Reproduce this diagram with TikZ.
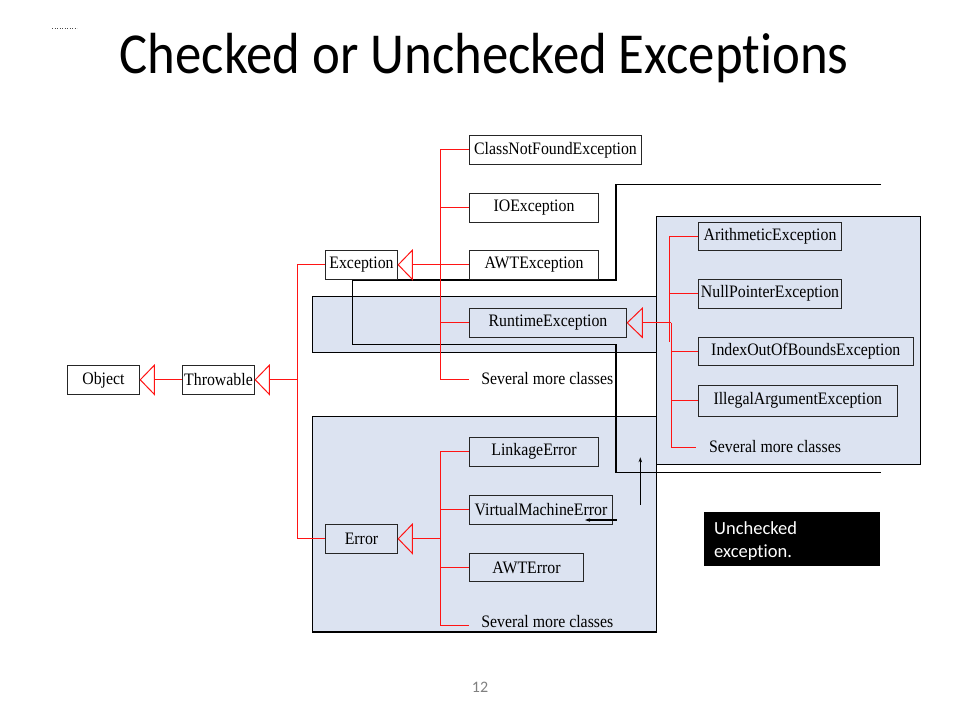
\documentclass[tikz,border=0pt]{standalone}
\usepackage{fontspec}
\setmainfont{Liberation Serif}
\newfontfamily\calib[Ligatures=NoCommon]{Carlito}
\usetikzlibrary{arrows.meta}
\definecolor{regblue}{RGB}{220,227,241}
\definecolor{redl}{RGB}{255,20,20}
\newcommand{\sqz}[1]{\scalebox{0.905}[1]{#1}}
\tikzset{
  cls/.style={draw=black!85, line width=1.1pt, inner sep=0pt, minimum height=29pt, font=\fontsize{17.5}{17.5}\selectfont},
  lbl/.style={inner sep=0pt, font=\fontsize{17.5}{17.5}\selectfont},
  region/.style={draw=black, line width=1.2pt, fill=regblue},
  outl/.style={draw=black, line width=1.2pt},
  rl/.style={draw=redl, line width=1pt},
  tri/.style={draw=redl, line width=1pt, line join=miter},
  smallarr/.style={draw=black, line width=1.1pt, -{Stealth[length=5pt,width=3.5pt]}}
}
\begin{document}
\begin{tikzpicture}[x=1pt,y=-1pt]
\useasboundingbox (0,0) rectangle (960,720);
\fill[white] (0,0) rectangle (960,720);

% title and decorations
\node[inner sep=0pt, anchor=base, font=\calib\fontsize{58}{58}\selectfont] (title) at (484,73) {\scalebox{0.91}[1]{Checked or Unchecked Exceptions}};
\coordinate (d1) at (52,28);
\coordinate (d2) at (77,28);
\draw[black!70, line width=0.7pt, dash pattern=on 0.8pt off 1.7pt] (d1) -- (d2);
\node[inner sep=0pt, anchor=base, text=black!50, font=\calib\fontsize{16}{16}\selectfont] (pg) at (480,692.5) {12};

% regions
\draw[region] (312.3,296.3) rectangle (656.7,352.3);
\draw[region] (312.3,416.7) rectangle (656.7,632);
\draw[region] (656.7,216.7) rectangle (920.3,464.3);

% black outline
\coordinate (o1) at (881,184.3);
\coordinate (o2) at (616,184.3);
\coordinate (o3) at (616,280);
\coordinate (o4) at (352.7,280);
\coordinate (o5) at (352.7,344.3);
\coordinate (o6) at (616,344.3);
\coordinate (o7) at (616,472.3);
\coordinate (o8) at (881,472.3);
\draw[outl] (o1) -- (o2) -- (o3) -- (o4) -- (o5) -- (o6) -- (o7) -- (o8);

% class boxes
\node[cls, minimum width=72.4pt] (obj) at (103.5,379.8) {\sqz{Object}};
\node[cls, minimum width=72.4pt] (thr) at (218.5,379.8) {\sqz{Throwable}};
\node[cls, minimum width=72.4pt] (exc) at (361.5,264.8) {\sqz{Exception}};
\node[cls, minimum width=172.4pt] (cnf) at (555.5,149.8) {\sqz{ClassNotFoundException}};
\node[cls, minimum width=129.4pt] (ioe) at (534,207.8) {\sqz{IOException}};
\node[cls, minimum width=129.4pt] (awt) at (534,264.8) {\sqz{AWTException}};
\node[cls, minimum width=157.4pt] (rte) at (548,322.8) {\sqz{RuntimeException}};
\node[lbl] (s1) at (547.3,378.5) {\sqz{Several more classes}};
\node[cls, minimum width=72.4pt] (err) at (361.5,538.8) {\sqz{Error}};
\node[cls, minimum width=129.4pt] (lnk) at (534,451.8) {\sqz{LinkageError}};
\node[cls, minimum width=143.4pt] (vme) at (541,509.8) {\sqz{VirtualMachineError}};
\node[cls, minimum width=114.4pt, minimum height=28.4pt] (awe) at (526.5,567.5) {\sqz{AWTError}};
\node[lbl] (s3) at (547.3,621.5) {\sqz{Several more classes}};
\node[cls, minimum width=143.4pt, minimum height=28pt] (ari) at (770,236.3) {\sqz{ArithmeticException}};
\node[cls, minimum width=143.4pt, minimum height=28.7pt] (npe) at (770,293.7) {\sqz{NullPointerException}};
\node[cls, minimum width=215pt, minimum height=27.7pt] (ioob) at (805.8,351.2) {\sqz{IndexOutOfBoundsException}};
\node[cls, minimum width=199pt, minimum height=31pt] (iae) at (797.8,400.8) {\sqz{IllegalArgumentException}};
\node[lbl] (s2) at (775,446.5) {\sqz{Several more classes}};

% Object <- Throwable
\draw[tri] (obj.east) -- ++(14,-14.5) -- ++(0,29) -- cycle;
\draw[rl] ([xshift=14pt]obj.east) -- (thr.west);
% Throwable <- Exception / Error
\coordinate (ta) at (297.3,379.8);
\coordinate (tb) at (297.3,264.8);
\coordinate (tc) at (297.3,538.8);
\draw[tri] (thr.east) -- ++(14,-14.5) -- ++(0,29) -- cycle;
\draw[rl] ([xshift=14pt]thr.east) -- (ta);
\draw[rl] (tb) -- (tc);
\draw[rl] (tb) -- (exc.west);
\draw[rl] (tc) -- (err.west);

% Exception subclasses
\coordinate (ea) at (440.3,149.8);
\coordinate (eb) at (440.3,379.3);
\draw[tri] (exc.east) -- ++(14,-14.5) -- ++(0,29) -- cycle;
\draw[rl] ([xshift=14pt]exc.east) -- (awt.west);
\draw[rl] (ea) -- (eb);
\draw[rl] (ea) -- (cnf.west);
\draw[rl] (ea |- ioe.west) -- (ioe.west);
\draw[rl] (ea |- rte.west) -- (rte.west);
\draw[rl, shorten >=11.7pt] (eb) -- (eb -| s1.west);

% Error subclasses
\coordinate (ra) at (440.3,451.8);
\coordinate (rb) at (440.3,625);
\draw[tri] (err.east) -- ++(14,-14.5) -- ++(0,29) -- cycle;
\draw[rl] ([xshift=14pt]err.east) -- (ra |- err.east);
\draw[rl] (ra) -- (rb);
\draw[rl] (ra) -- (lnk.west);
\draw[rl] (ra |- vme.west) -- (vme.west);
\draw[rl] (ra |- awe.west) -- (awe.west);
\draw[rl, shorten >=11.7pt] (rb) -- (rb -| s3.west);

% RuntimeException subclasses
\coordinate (qa) at (669.3,236.3);
\coordinate (qb) at (669.3,342);
\coordinate (qc) at (671,322.8);
\coordinate (qd) at (671,447.7);
\draw[tri] (rte.east) -- ++(15,-14.5) -- ++(0,29) -- cycle;
\draw[rl] ([xshift=15pt]rte.east) -- (qc);
\draw[rl] (qa) -- (qb);
\draw[rl] (qc) -- (qd);
\draw[rl] (qa) -- (ari.west);
\draw[rl] (qa |- npe.west) -- (npe.west);
\draw[rl] (qc |- ioob.west) -- (ioob.west);
\draw[rl] (qc |- iae.west) -- (iae.west);
\draw[rl, shorten >=12.6pt] (qd) -- (qd -| s2.west);

% small arrows
\coordinate (va) at (640.3,504.7);
\coordinate (vb) at (640.3,457.3);
\coordinate (ha) at (616.7,520);
\coordinate (hb) at (585,520);
\draw[smallarr] (va) -- (vb);
\draw[smallarr] (ha) -- (hb);

% unchecked note
\node[fill=black, inner sep=0pt, minimum width=176pt, minimum height=53.7pt, anchor=north west] (unc) at (704,512) {};
\node[inner sep=0pt, anchor=base west, text=white, font=\calib\fontsize{18.5}{18.5}\selectfont] (u1) at (714,534) {Unchecked};
\node[inner sep=0pt, anchor=base west, text=white, font=\calib\fontsize{18.5}{18.5}\selectfont] (u2) at (714,557) {exception.};
\end{tikzpicture}
\end{document}
